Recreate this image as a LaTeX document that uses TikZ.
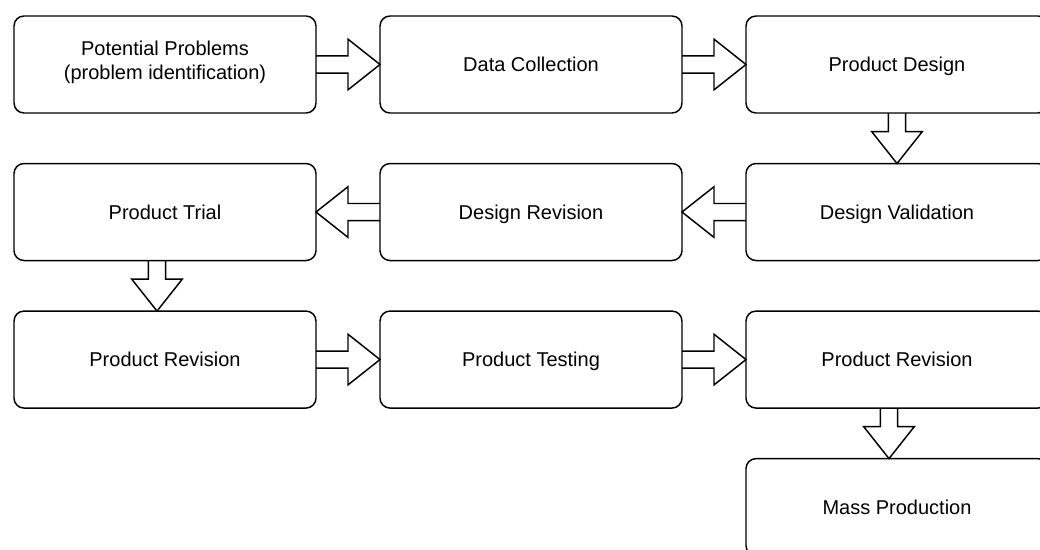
\documentclass[tikz,border=0pt]{standalone}
\usepackage{fontspec}
\setmainfont{Liberation Sans}
\usetikzlibrary{positioning, calc}

\tikzset{
  box/.style={draw, rounded corners=7.5pt, line width=1.1pt, outer sep=0pt, minimum width=226.5pt,
    minimum height=72.75pt, align=center, font=\fontsize{15}{18}\selectfont,
    execute at begin node={\rule[-3.6pt]{0pt}{18pt}}},
  blockarr/.style={draw, line width=1.1pt, line join=miter, to path={
    ($(\tikztotarget)!24pt!(\tikztostart)$) coordinate (ab)
    ($(\tikztostart)!6.4pt!90:(\tikztotarget)$) -- ($(ab)!6.4pt!-90:(\tikztostart)$)
    -- ($(ab)!19pt!-90:(\tikztostart)$) -- (\tikztotarget)
    -- ($(ab)!19pt!90:(\tikztostart)$) -- ($(ab)!6.4pt!90:(\tikztostart)$)
    -- ($(\tikztostart)!6.4pt!-90:(\tikztotarget)$)}}
}

\begin{document}
\begin{tikzpicture}[node distance=37.9pt and 48pt]
    \useasboundingbox (0,0) rectangle (780pt,-412.5pt);

    \node[box, anchor=north west, execute at end node={\rule[-6.5pt]{0pt}{0pt}}] (pp) at (10.5pt,-12pt)
        {Potential Problems\\(problem identification)};
    \node[box] (dc) [right=of pp] {Data Collection};
    \node[box] (pd) [right=of dc] {Product Design};
    \node[box] (dv) [below=of pd] {Design Validation};
    \node[box] (dr) [left=of dv]  {Design Revision};
    \node[box] (pt) [left=of dr]  {Product Trial};
    \node[box] (pr) [below=of pt] {Product Revision};
    \node[box] (ts) [right=of pr] {Product Testing};
    \node[box] (pr2) [right=of ts] {Product Revision};
    \node[box] (mp) [below=of pr2] {Mass Production};

    \path
    (pp.east) edge[blockarr] (dc.west)
    (dc.east) edge[blockarr] (pd.west)
    (pd.south) edge[blockarr] (dv.north)
    (dv.west) edge[blockarr] (dr.east)
    (dr.west) edge[blockarr] (pt.east)
    ([xshift=-6pt]pt.south) edge[blockarr] ([xshift=-6pt]pr.north)
    (pr.east) edge[blockarr] (ts.west)
    (ts.east) edge[blockarr] (pr2.west)
    ([xshift=-6pt]pr2.south) edge[blockarr] ([xshift=-6pt]mp.north);
\end{tikzpicture}
\end{document}
